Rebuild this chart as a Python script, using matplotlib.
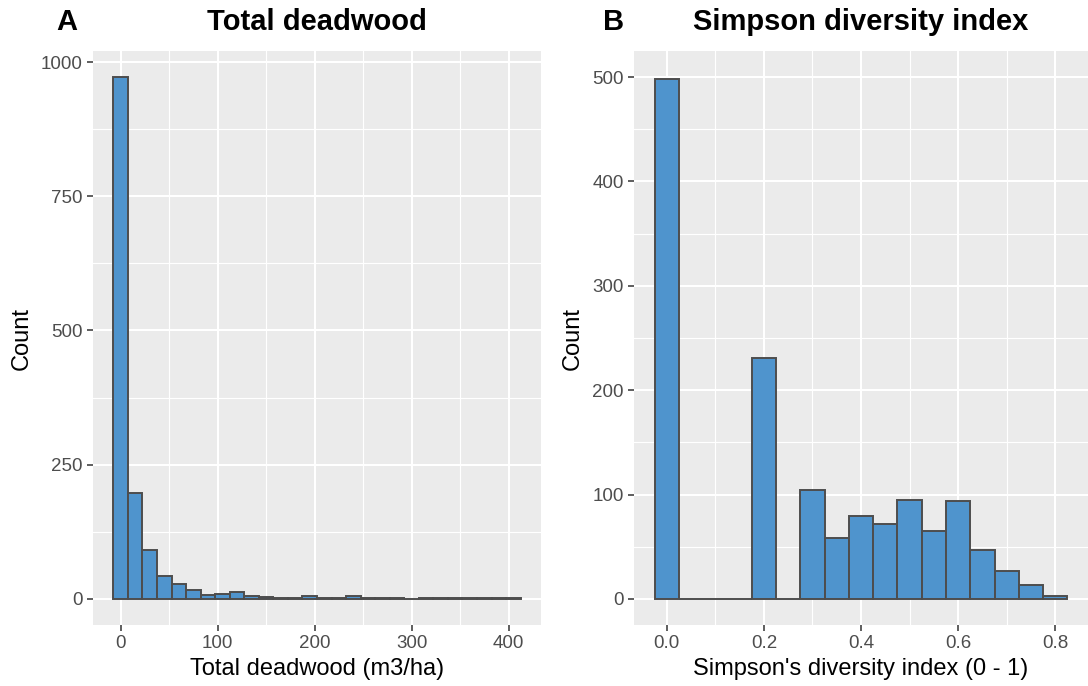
import matplotlib
matplotlib.use("Agg")
import matplotlib.pyplot as plt
from matplotlib.ticker import FixedLocator

# histogram counts (bin centres + counts)
deadwood_bins = [0, 15, 30, 45, 60, 75, 90, 105, 120, 135, 150, 165, 180, 195,
                 210, 225, 240, 255, 270, 285, 300, 315, 330, 345, 360, 375, 390, 405]
deadwood_counts = [972, 198, 91, 42, 27, 17, 8, 9, 12, 5, 3, 2, 2, 5,
                   2, 2, 6, 1, 1, 1, 0, 1, 1, 1, 1, 2, 1, 2]
deadwood_width = 15

simpson_bins = [0.0, 0.05, 0.1, 0.15, 0.2, 0.25, 0.3, 0.35, 0.4, 0.45,
                0.5, 0.55, 0.6, 0.65, 0.7, 0.75, 0.8]
simpson_counts = [498, 0, 0, 0, 231, 0, 104, 58, 79, 72, 95, 65, 94, 47, 27, 13, 3]
simpson_width = 0.05

fill = "#4F94CD"
edge = "#4D4D4D"
panel_bg = "#EBEBEB"

plt.rcParams["font.family"] = ["Liberation Sans", "DejaVu Sans"]

fig = plt.figure(figsize=(10.88, 6.86), dpi=100)
W, H = 1088, 686

def px_axes(l, t, r, b):
    return fig.add_axes([l / W, 1 - b / H, (r - l) / W, (b - t) / H])

def style(ax, xmaj, xmin, ymaj, ymin, xlab, ylab, fmt):
    ax.set_facecolor(panel_bg)
    for s in ax.spines.values():
        s.set_visible(False)
    ax.xaxis.set_major_locator(FixedLocator(xmaj))
    ax.xaxis.set_minor_locator(FixedLocator(xmin))
    ax.yaxis.set_major_locator(FixedLocator(ymaj))
    ax.yaxis.set_minor_locator(FixedLocator(ymin))
    ax.set_xticklabels([fmt(v) for v in xmaj])
    ax.grid(which="major", color="white", linewidth=1.5)
    ax.grid(which="minor", color="white", linewidth=0.8)
    ax.set_axisbelow(True)
    ax.tick_params(which="major", length=4.3, width=1.1, color="#333333",
                   labelsize=13.5, labelcolor="#4D4D4D", pad=3)
    ax.tick_params(which="minor", length=0)
    ax.set_xlabel(xlab, fontsize=17, labelpad=4)
    ax.set_ylabel(ylab, fontsize=17, labelpad=6)

# panel A
ax1 = px_axes(93, 51, 541, 625)
ax1.bar(deadwood_bins, deadwood_counts, width=deadwood_width, color=fill,
        edgecolor=edge, linewidth=1.4, zorder=3)
ax1.set_xlim(-28.5, 433.5)
ax1.set_ylim(-48.6, 1020.6)
style(ax1, [0, 100, 200, 300, 400], [50, 150, 250, 350],
      [0, 250, 500, 750, 1000], [125, 375, 625, 875],
      "Total deadwood (m3/ha)", "Count", lambda v: f"{v:d}")

# panel B
ax2 = px_axes(634, 51, 1088, 625)
ax2.bar(simpson_bins, simpson_counts, width=simpson_width, color=fill,
        edgecolor=edge, linewidth=1.4, zorder=3)
ax2.set_xlim(-0.0675, 0.8675)
ax2.set_ylim(-25, 525)
style(ax2, [0.0, 0.2, 0.4, 0.6, 0.8], [0.1, 0.3, 0.5, 0.7],
      [0, 100, 200, 300, 400, 500], [50, 150, 250, 350, 450],
      "Simpson's diversity index (0 - 1)", "Count", lambda v: f"{v:.1f}")

fig.text(67 / W, 1 - 22 / H, "A", fontsize=21, fontweight="bold", ha="center", va="center")
fig.text(317 / W, 1 - 22 / H, "Total deadwood", fontsize=21, fontweight="bold",
         ha="center", va="center")
fig.text(614 / W, 1 - 22 / H, "B", fontsize=21, fontweight="bold", ha="center", va="center")
fig.text(861 / W, 1 - 22 / H, "Simpson diversity index", fontsize=21, fontweight="bold",
         ha="center", va="center")

fig.savefig("out.png", dpi=100, facecolor="white")
